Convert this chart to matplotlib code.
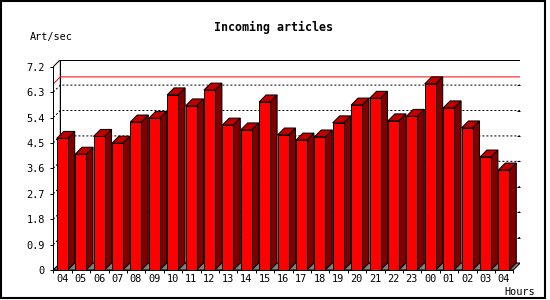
import matplotlib
matplotlib.use("Agg")
import matplotlib.pyplot as plt
from matplotlib.patches import Polygon, Rectangle

hours = ["04", "05", "06", "07", "08", "09", "10", "11", "12", "13", "14", "15",
         "16", "17", "18", "19", "20", "21", "22", "23", "00", "01", "02", "03", "04"]
rate = [4.66, 4.10, 4.73, 4.49, 5.24, 5.37, 6.20, 5.81, 6.37, 5.13, 4.96, 5.95,
        4.78, 4.60, 4.71, 5.21, 5.84, 6.08, 5.28, 5.44, 6.59, 5.74, 5.03, 4.00, 3.54]
yticks = [0, 0.9, 1.8, 2.7, 3.6, 4.5, 5.4, 6.3, 7.2]
ytick_labels = ["0", "0.9", "1.8", "2.7", "3.6", "4.5", "5.4", "6.3", "7.2"]

ymax = 7.2
n = len(rate)
dx = 0.38          # depth in slot units
dy = 0.248         # depth in value units
off = 0.185        # bar start inside slot
w = 0.598          # bar front width

font = "DejaVu Sans Mono"
lw = 0.72

fig = plt.figure(figsize=(5.5, 3.0), dpi=100)
fig.patch.set_facecolor("white")
ax = fig.add_axes([53.3 / 550, 30 / 300, (n + dx) * 18.4 / 550, (ymax + dy) * 28.24 / 300])
ax.set_xlim(0, n + dx)
ax.set_ylim(0, ymax + dy)
ax.set_facecolor("none")

# left wall, back wall, floor
ax.add_patch(Polygon([(0, 0), (dx, dy), (dx, ymax + dy), (0, ymax)], closed=True,
                     facecolor="white", edgecolor="black", lw=lw, zorder=1))
ax.add_patch(Rectangle((dx, dy), n, ymax, facecolor="white", edgecolor="black", lw=lw, zorder=1))
ax.add_patch(Polygon([(0, 0), (n, 0), (n + dx, dy), (dx, dy)], closed=True,
                     facecolor="#808080", edgecolor="black", lw=lw, zorder=1.5))

# dotted grid on back and left walls
for v in yticks[1:-1]:
    ax.plot([0, dx, n + dx], [v, v + dy, v + dy], color="black", lw=lw,
            linestyle=(0, (2, 2)), zorder=2)

# max line
vmax = max(rate)
ax.plot([0, dx, n + dx], [vmax, vmax + dy, vmax + dy], color="#ff0000", lw=lw, zorder=2)

# bars
for k, v in enumerate(rate):
    x0 = k + off
    ax.add_patch(Polygon([(x0 + w, 0), (x0 + w, v), (x0 + w + dx, v + dy), (x0 + w + dx, dy)],
                         closed=True, facecolor="#800000", edgecolor="black", lw=lw, zorder=3))
    ax.add_patch(Polygon([(x0, v), (x0 + w, v), (x0 + w + dx, v + dy), (x0 + dx, v + dy)],
                         closed=True, facecolor="#c00000", edgecolor="black", lw=lw, zorder=3))
    ax.add_patch(Rectangle((x0, 0), w, v, facecolor="#ff0000", edgecolor="black", lw=lw, zorder=4))

# axes and ticks
for s in ["top", "right"]:
    ax.spines[s].set_visible(False)
ax.spines["left"].set_bounds(0, ymax)
ax.spines["bottom"].set_bounds(0, n)
ax.spines["left"].set_linewidth(lw)
ax.spines["bottom"].set_linewidth(lw)
ax.spines["left"].set_zorder(5)

ax.set_yticks(yticks)
ax.set_yticklabels(ytick_labels, fontfamily=font, fontsize=7.4)
ax.tick_params(axis="y", direction="out", length=2.4, width=lw, pad=3.6)
ax.set_xticks(range(n + 1))
ax.set_xticklabels([])
ax.set_xticks([k + off + w / 2 for k in range(n)], minor=True)
ax.set_xticklabels(hours, minor=True, fontfamily=font, fontsize=7.4)
ax.tick_params(axis="x", which="major", direction="out", length=2.4, width=lw)
ax.tick_params(axis="x", which="minor", length=0, pad=3.2)

tw = ax.twinx()
tw.set_ylim(-dy, ymax)
tw.set_yticks(yticks[1:-1])
tw.set_yticklabels([])
tw.tick_params(axis="y", direction="in", length=2, width=lw)
for s in tw.spines.values():
    s.set_visible(False)

fig.text(273.5 / 550, 1 - 27 / 300, "Incoming articles", ha="center", va="center",
         fontfamily=font, fontweight="bold", fontsize=8.4)
fig.text(30 / 550, 1 - 37 / 300, "Art/sec", ha="left", va="center",
         fontfamily=font, fontsize=7.4)
fig.text(504 / 550, 1 - 292 / 300, "Hours", ha="left", va="center",
         fontfamily=font, fontsize=7.4)

# outer frame
fig.add_artist(Rectangle((1 / 550, 2 / 300), 544 / 550, 297 / 300, transform=fig.transFigure,
                         fill=False, edgecolor="black", lw=1.5))

fig.savefig("out.png", dpi=100)
